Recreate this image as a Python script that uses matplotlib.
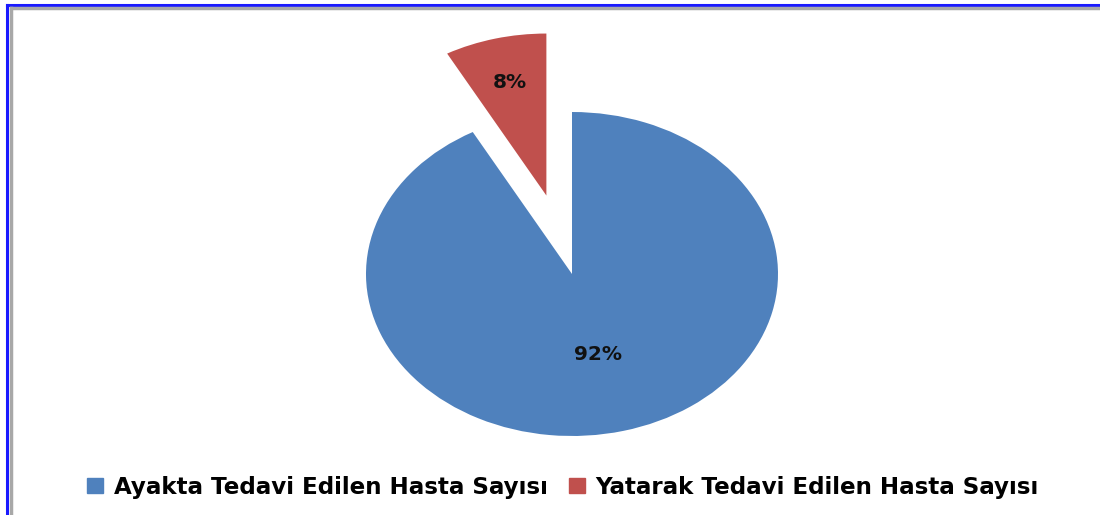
import numpy as np
import matplotlib.pyplot as plt
from matplotlib.lines import Line2D

labels = ['Ayakta Tedavi Edilen Hasta Sayısı', 'Yatarak Tedavi Edilen Hasta Sayısı']
values = [92, 8]
colors = ['#4F81BD', '#C0504D']
explode = [0.0, 0.5]
pct_dist = [0.51, 0.72]

W, H = 1100, 515
fig = plt.figure(figsize=(W / 100, H / 100), dpi=100)
ax = fig.add_axes([0, 0, 1, 1])

# pie as a horizontally stretched ellipse: 1 unit = 206 px wide, 162 px tall
cx, cy, rx, ry = 572, 274, 206, 162
wedges, _ = ax.pie(values, colors=colors, explode=explode, startangle=90,
                   counterclock=False, wedgeprops=dict(linewidth=0))
ax.set_aspect('auto')
ax.set_xlim(-cx / rx, (W - cx) / rx)
ax.set_ylim(-(H - cy) / ry, cy / ry)
ax.axis('off')

for w, v, d, e in zip(wedges, values, pct_dist, explode):
    mid = np.deg2rad((w.theta1 + w.theta2) / 2)
    r = d + e
    ax.text(r * np.cos(mid), r * np.sin(mid), f'{v}%', ha='center', va='center',
            fontsize=14.5, fontweight='bold', color='#111111', family='DejaVu Sans')

handles = [plt.Rectangle((0, 0), 1, 1, color=c) for c in colors]
fig.legend(handles, labels, loc='center', bbox_to_anchor=(0.512, 0.054),
           ncol=2, frameon=False, handlelength=0.66, handleheight=0.66,
           handletextpad=0.48, columnspacing=0.95,
           prop=dict(family='DejaVu Sans', weight='bold', size=16.6))

# frame lines (top and left only)
fig.add_artist(Line2D([6.5 / W, 1], [1 - 4.5 / H, 1 - 4.5 / H], color='#1a1aff', lw=2.2))
fig.add_artist(Line2D([6.5 / W, 6.5 / W], [0, 1 - 4.5 / H], color='#1a1aff', lw=2.2))
fig.add_artist(Line2D([10.5 / W, 1], [1 - 8 / H, 1 - 8 / H], color='#a8a8a8', lw=2.5))
fig.add_artist(Line2D([10.5 / W, 10.5 / W], [0, 1 - 8 / H], color='#a8a8a8', lw=2.5))

fig.savefig('out.png', dpi=100)
